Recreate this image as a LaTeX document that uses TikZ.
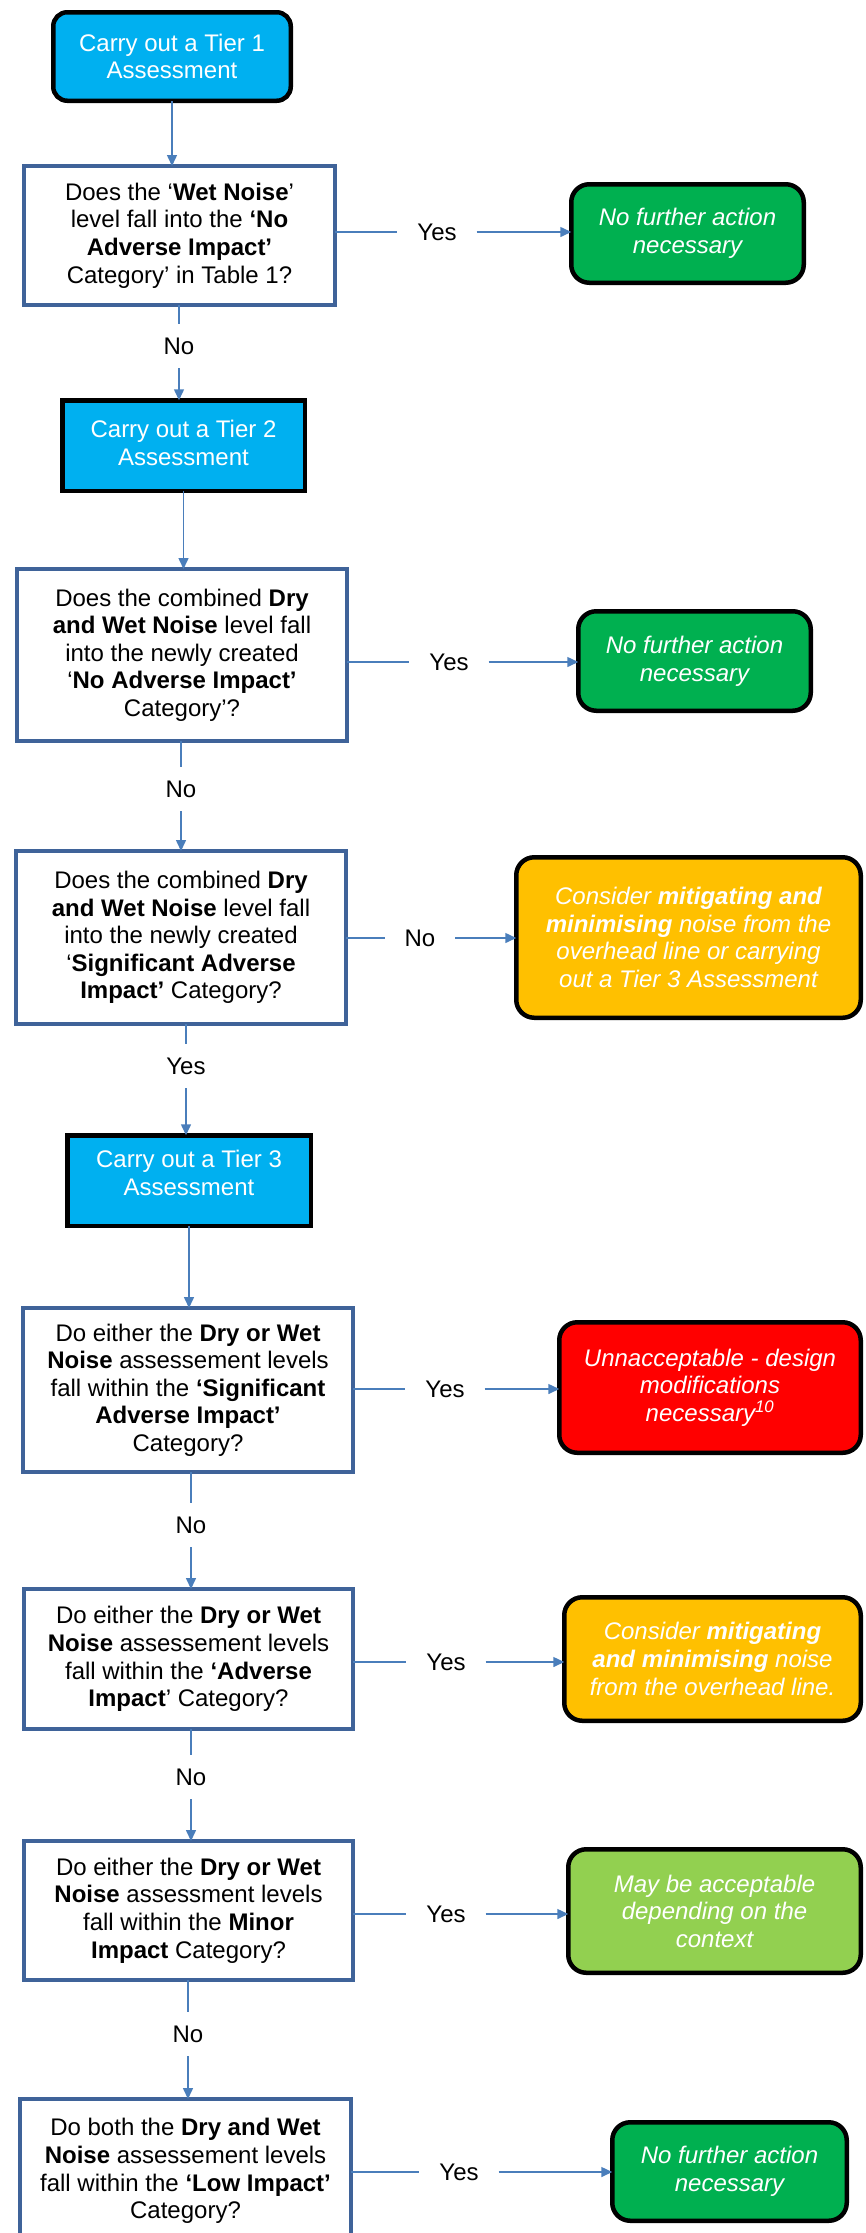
\documentclass[tikz,border=0pt]{standalone}
\usepackage{fontspec}
\setmainfont{Liberation Sans}
\usetikzlibrary{arrows.meta}
\definecolor{cyanbox}{HTML}{00B0F0}
\definecolor{greenbox}{HTML}{00B050}
\definecolor{orangebox}{HTML}{FFC000}
\definecolor{redbox}{HTML}{FF0000}
\definecolor{lgreenbox}{HTML}{92D050}
\definecolor{qborder}{HTML}{3F6399}
\definecolor{connc}{HTML}{4A7EBB}
\tikzset{
  tierbox/.style={draw=black, line width=4.5pt, fill=cyanbox, text=white, align=center},
  qbox/.style={draw=qborder, line width=4pt, fill=white, align=center},
  resbox/.style={draw=black, line width=4.5pt, rounded corners=18pt, text=white, align=center,
    font=\fontsize{24}{27.6}\selectfont\itshape},
  lbl/.style={inner xsep=20pt, inner ysep=14pt},
  conn/.style={draw=connc, line width=1.5pt},
  arr/.style={conn, -{Triangle[length=11pt,width=10pt]}},
}
\begin{document}
\begin{tikzpicture}[x=1pt, y=1pt, font=\fontsize{24}{27.6}\selectfont,
  every node/.append style={inner sep=0pt, outer sep=0pt}]
\useasboundingbox (0,0) rectangle (865,-2233);

% ---------- Tier 1 ----------
\node[tierbox, rounded corners=14pt, minimum width=237.5pt, minimum height=88.5pt] (tier1) at (172,-56.5)
  {Carry out a Tier 1\\Assessment};
\node[qbox, minimum width=311pt, minimum height=139pt] (q1) at (179.5,-235.5)
  {Does the ‘\textbf{Wet Noise}’\\level fall into the \textbf{‘No}\\\textbf{Adverse Impact’}\\Category’ in Table 1?};
\node[resbox, fill=greenbox, minimum width=232.5pt, minimum height=98.5pt] (g1) at (687.5,-233.5)
  {No further action\\necessary};
\draw[arr] (tier1.south) -- (tier1.south |- q1.north);
\node[lbl] (y1) at (437,-232) {Yes};
\draw[conn] (q1.east |- y1) -- (y1.west);
\draw[arr] (y1.east) -- (g1.west |- y1);

% ---------- Tier 2 ----------
\node[tierbox, minimum width=242.5pt, minimum height=90.5pt] (tier2) at (183.5,-445.5)
  {Carry out a Tier 2\\Assessment\rule[-5pt]{0pt}{5pt}};
\node[lbl] (n1) at (179,-346) {No};
\draw[conn] (n1.north |- q1.south) -- (n1.north);
\draw[arr] (n1.south) -- (n1.south |- tier2.north);

\node[qbox, minimum width=330pt, minimum height=172pt] (q2) at (182,-655)
  {Does the combined \textbf{Dry}\\\textbf{and Wet Noise} level fall\\into the newly created\\‘\textbf{No Adverse Impact’}\\Category’?};
\draw[arr] (tier2.south) -- (tier2.south |- q2.north);
\node[resbox, fill=greenbox, minimum width=232.5pt, minimum height=99.5pt] (g2) at (694.5,-661)
  {No further action\\necessary};
\node[lbl] (y2) at (449,-662) {Yes};
\draw[conn] (q2.east |- y2) -- (y2.west);
\draw[arr] (y2.east) -- (g2.west |- y2);

% ---------- Q3 ----------
\node[qbox, minimum width=330pt, minimum height=173pt] (q3) at (181,-937.5)
  {Does the combined \textbf{Dry}\\\textbf{and Wet Noise} level fall\\into the newly created\\‘\textbf{Significant Adverse}\\\textbf{Impact’} Category?};
\node[lbl] (n2) at (181,-789) {No};
\draw[conn] (n2.north |- q2.south) -- (n2.north);
\draw[arr] (n2.south) -- (n2.south |- q3.north);
\node[resbox, fill=orangebox, minimum width=344.5pt, minimum height=160.5pt] (o1) at (688.5,-937.5)
  {Consider \textbf{mitigating and}\\\textbf{minimising} noise from the\\overhead line or carrying\\out a Tier 3 Assessment};
\node[lbl] (n3) at (420,-938) {No};
\draw[conn] (q3.east |- n3) -- (n3.west);
\draw[arr] (n3.east) -- (o1.west |- n3);

% ---------- Tier 3 ----------
\node[tierbox, minimum width=243.5pt, minimum height=90.5pt] (tier3) at (189,-1180.5)
  {Carry out a Tier 3\\Assessment\rule[-15pt]{0pt}{15pt}};
\node[lbl] (y3) at (186,-1066) {Yes};
\draw[conn] (y3.north |- q3.south) -- (y3.north);
\draw[arr] (y3.south) -- (y3.south |- tier3.north);

% ---------- Q4 ----------
\node[qbox, minimum width=330pt, minimum height=164pt] (q4) at (188,-1390)
  {Do either the \textbf{Dry or Wet}\\\textbf{Noise} assessement levels\\fall within the \textbf{‘Significant}\\\textbf{Adverse Impact’}\\Category?};
\draw[arr] (tier3.south) -- (tier3.south |- q4.north);
\node[resbox, fill=redbox, minimum width=301.5pt, minimum height=130.5pt] (r1) at (710,-1387.5)
  {Unnacceptable - design\\modifications\\necessary\textsuperscript{10}};
\node[lbl] (y4) at (445,-1389) {Yes};
\draw[conn] (q4.east |- y4) -- (y4.west);
\draw[arr] (y4.east) -- (r1.west |- y4);

% ---------- Q5 ----------
\node[qbox, minimum width=329pt, minimum height=140pt] (q5) at (188.5,-1659)
  {Do either the \textbf{Dry or Wet}\\\textbf{Noise} assessement levels\\fall within the \textbf{‘Adverse}\\\textbf{Impact}’ Category?};
\node[lbl] (n4) at (191,-1525) {No};
\draw[conn] (n4.north |- q4.south) -- (n4.north);
\draw[arr] (n4.south) -- (n4.south |- q5.north);
\node[resbox, fill=orangebox, minimum width=296.5pt, minimum height=123.5pt] (o2) at (712.5,-1659)
  {Consider \textbf{mitigating}\\\textbf{and minimising} noise\\from the overhead line.};
\node[lbl] (y5) at (446,-1662) {Yes};
\draw[conn] (q5.east |- y5) -- (y5.west);
\draw[arr] (y5.east) -- (o2.west |- y5);

% ---------- Q6 ----------
\node[qbox, minimum width=329pt, minimum height=139pt] (q6) at (188.5,-1910.5)
  {Do either the \textbf{Dry or Wet}\\\textbf{Noise} assessment levels\\fall within the \textbf{Minor}\\\textbf{Impact} Category?};
\node[lbl] (n5) at (191,-1777) {No};
\draw[conn] (n5.north |- q5.south) -- (n5.north);
\draw[arr] (n5.south) -- (n5.south |- q6.north);
\node[resbox, fill=lgreenbox, minimum width=292.5pt, minimum height=123.5pt] (lg) at (714.5,-1911)
  {May be acceptable\\depending on the\\context};
\node[lbl] (y6) at (446,-1914) {Yes};
\draw[conn] (q6.east |- y6) -- (y6.west);
\draw[arr] (y6.east) -- (lg.west |- y6);

% ---------- Q7 ----------
\node[qbox, minimum width=331pt, minimum height=144pt] (q7) at (185.5,-2171)
  {Do both the \textbf{Dry and Wet}\\\textbf{Noise} assessement levels\\fall within the \textbf{‘Low Impact’}\\Category?};
\node[lbl] (n6) at (188,-2034) {No};
\draw[conn] (n6.north |- q6.south) -- (n6.north);
\draw[arr] (n6.south) -- (n6.south |- q7.north);
\node[resbox, fill=greenbox, minimum width=234.5pt, minimum height=98.5pt] (g3) at (729.5,-2171.5)
  {No further action\\necessary};
\node[lbl] (y7) at (459,-2172) {Yes};
\draw[conn] (q7.east |- y7) -- (y7.west);
\draw[arr] (y7.east) -- (g3.west |- y7);
\end{tikzpicture}
\end{document}
